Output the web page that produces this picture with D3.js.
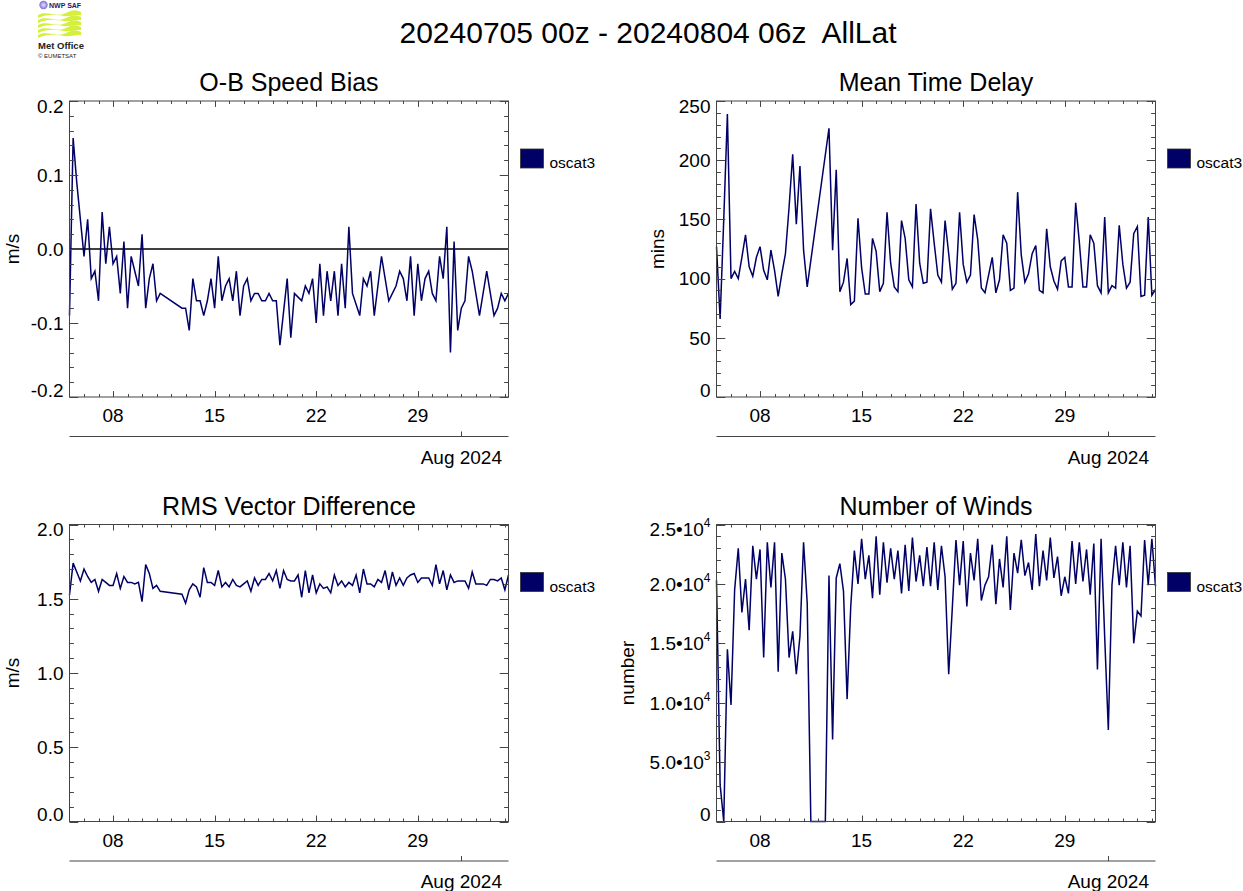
<!DOCTYPE html>
<html><head><meta charset="utf-8">
<script src="https://cdn.jsdelivr.net/npm/d3@7"></script>
<style>
body{margin:0;background:#fff;}
svg{display:block;font-family:"Liberation Sans",Arial,Helvetica,sans-serif;}
</style>
</head><body>
<svg id="chart" width="1243" height="891"></svg>
<script>
// ---------------- DATA ----------------
const mainTitle = "20240705 00z - 20240804 06z  AllLat";
const startTime = "2024-07-05T00:00:00Z";
const endTime = "2024-08-04T06:00:00Z";
const stepHours = 6;
const seriesName = "oscat3";
const majorDays = ["2024-07-08", "2024-07-15", "2024-07-22", "2024-07-29"];
const monthMark = "2024-08-01";
const monthLabel = "Aug 2024";

const speedBias = [-0.09,0.15,0.09,0.04,-0.01,0.04,-0.04,-0.03,-0.07,0.05,
 -0.02,0.03,-0.02,-0.01,-0.06,0.01,-0.08,-0.01,-0.03,-0.05,
 0.02,-0.08,-0.04,-0.02,-0.07,-0.06,null,null,null,null,
 null,-0.08,-0.08,-0.11,-0.04,-0.07,-0.07,-0.09,-0.07,-0.04,
 -0.08,-0.01,-0.07,-0.05,-0.04,-0.07,-0.03,-0.09,-0.05,-0.04,
 -0.07,-0.06,-0.06,-0.07,-0.07,-0.06,-0.07,-0.07,-0.13,-0.085,
 -0.04,-0.12,-0.06,-0.065,-0.07,-0.05,-0.06,-0.04,-0.10,-0.02,
 -0.09,-0.03,-0.07,-0.03,-0.09,-0.02,-0.08,0.03,-0.06,-0.075,
 -0.09,-0.04,-0.05,-0.03,-0.09,-0.05,-0.01,-0.04,-0.07,-0.06,
 -0.05,-0.03,-0.04,-0.07,-0.01,-0.09,-0.02,-0.07,-0.04,-0.03,
 -0.06,-0.07,-0.01,-0.04,0.03,-0.14,0.01,-0.11,-0.08,-0.07,
 -0.01,-0.03,-0.06,-0.09,-0.06,-0.03,-0.06,-0.09,-0.08,-0.06,
 -0.07,-0.06];

const timeDelay = [127,66,150,239,100,106,100,118,137,110,
 102,118,127,107,99,124,107,85,104,121,
 160,205,146,195,124,93,null,null,null,null,
 null,227,124,192,89,97,117,78,81,151,
 109,87,87,134,123,89,96,156,113,93,
 89,149,134,99,93,163,113,96,97,159,
 130,103,97,149,121,91,96,156,112,97,
 103,154,133,92,88,103,118,88,99,137,
 130,90,92,173,120,97,104,121,128,90,
 88,142,110,98,91,115,118,93,93,164,
 131,93,93,137,130,94,88,152,88,94,
 92,145,112,92,97,138,144,85,86,152,
 86,91];

const rmsVecDiff = [1.525,1.74,1.68,1.62,1.70,1.65,1.61,1.63,1.55,1.63,
 1.61,1.59,1.59,1.67,1.57,1.65,1.61,1.61,1.60,1.61,
 1.48,1.73,1.67,1.57,1.59,1.55,null,null,null,null,
 null,1.53,1.47,1.56,1.60,1.58,1.51,1.71,1.61,1.61,
 1.59,1.69,1.58,1.61,1.58,1.63,1.59,1.58,1.60,1.62,
 1.55,1.64,1.59,1.63,1.63,1.67,1.62,1.69,1.57,1.69,
 1.63,1.62,1.62,1.66,1.51,1.69,1.54,1.66,1.54,1.60,
 1.57,1.58,1.54,1.66,1.59,1.62,1.58,1.61,1.59,1.66,
 1.54,1.70,1.60,1.60,1.58,1.63,1.61,1.69,1.56,1.68,
 1.59,1.64,1.59,1.64,1.66,1.67,1.61,1.64,1.64,1.64,
 1.59,1.73,1.60,1.69,1.56,1.66,1.61,1.62,1.62,1.62,
 1.57,1.68,1.60,1.60,1.60,1.59,1.63,1.63,1.62,1.64,
 1.56,1.66];

const numWinds = [20300,3100,0,14500,9800,19500,23000,17600,20400,16100,
 23200,20400,22900,13800,23500,19700,23500,12600,22600,20400,
 13800,16000,12400,15600,23500,18400,0,0,0,0,
 0,20700,6900,20500,21700,19400,10300,18100,22800,20000,
 23800,20400,22400,18800,24000,19100,23500,20100,23000,20400,
 22800,19200,23300,19400,23900,20200,22400,19800,23100,19800,
 23500,19500,23200,20600,12400,18000,23700,19900,23600,18100,
 22600,20300,23800,18600,19900,20600,23300,18300,22100,19700,
 24000,17800,22600,20900,23700,20700,21800,19500,24200,19800,
 22800,20300,23900,20500,22300,19000,20600,19200,23600,20000,
 23500,20200,22900,19100,23400,12800,23800,15500,7700,19900,
 23200,19900,23500,19700,23200,15000,17700,17300,23700,19900,
 23800,19800];

const speedTicks = [-0.2,-0.1,0.0,0.1,0.2];
const speedTickLabels = ["-0.2","-0.1","0.0","0.1","0.2"];
const delayTicks = [0,50,100,150,200,250];
const delayTickLabels = ["0","50","100","150","200","250"];
const rmsTicks = [0.0,0.5,1.0,1.5,2.0];
const rmsTickLabels = ["0.0","0.5","1.0","1.5","2.0"];
const windTicks = [0,5000,10000,15000,20000,25000];
const windTickMant = ["0","5.0","1.0","1.5","2.0","2.5"];
const windTickExp = [null,"3","4","4","4","4"];

// ---------------- LAYOUT ----------------
const svg = d3.select("#chart");
const LINE_COL = "#000066";
const FRAME_COL = "#444";
const t0 = new Date(startTime), t1 = new Date(endTime);
const times = d3.utcHour.every(stepHours).range(t0, new Date(+t1 + 1));

const panels = [
  {title:"O-B Speed Bias", ylab:"m/s", ylabX:12, data:speedBias, dom:[-0.2,0.2], ticks:speedTicks, labels:speedTickLabels, minor:0.02,
   L:69.5, R:508.5, T:101, B:397, zero:true},
  {title:"Mean Time Delay", ylab:"mins", ylabX:657, data:timeDelay, dom:[0,250], ticks:delayTicks, labels:delayTickLabels, minor:10,
   L:716.5, R:1155.5, T:101, B:397},
  {title:"RMS Vector Difference", ylab:"m/s", ylabX:12, data:rmsVecDiff, dom:[0,2], ticks:rmsTicks, labels:rmsTickLabels, minor:0.1,
   L:69.5, R:508.5, T:524.5, B:821.5},
  {title:"Number of Winds", ylab:"number", ylabX:627, data:numWinds, dom:[0,25000], ticks:windTicks, labels:windTickMant, exps:windTickExp, minor:1000,
   L:716.5, R:1155.5, T:524.5, B:821.5}
];

// main title
svg.append("text").attr("x", 648).attr("y", 43).attr("text-anchor","middle")
  .attr("font-size", 30).attr("fill","#000").attr("xml:space","preserve").text(mainTitle);

// logo
(function logo(){
  const g = svg.append("g");
  const grad = svg.append("defs").append("radialGradient").attr("id","sw");
  grad.append("stop").attr("offset","0%").attr("stop-color","#e8e4ff");
  grad.append("stop").attr("offset","100%").attr("stop-color","#7d6fd0");
  g.append("circle").attr("cx",43.5).attr("cy",5).attr("r",4.2).attr("fill","url(#sw)");
  g.append("text").attr("x",49).attr("y",8).attr("font-size",7).attr("font-weight","bold").attr("fill","#20206a").text("NWP SAF");
  const waves = [13,18,23,28,33];
  waves.forEach((y,k)=>{
    g.append("path").attr("d",`M38,${y+2} C48,${y-3} 56,${y+5} 66,${y} S78,${y-2} 81,${y-1} L81,${y+2.2} C76,${y+1} 70,${y+4} 64,${y+3} S48,${y} 38,${y+5} Z`)
      .attr("fill","#d4f03c");
  });
  g.append("text").attr("x",38).attr("y",49).attr("font-size",9.5).attr("font-weight","bold").attr("fill","#222").text("Met Office");
  g.append("text").attr("x",38).attr("y",58).attr("font-size",6).attr("fill","#222").text("© EUMETSAT");
})();

panels.forEach(p => {
  const g = svg.append("g");
  const x = d3.scaleUtc().domain([t0, t1]).range([p.L, p.R]);
  const y = d3.scaleLinear().domain(p.dom).range([p.B, p.T]);
  const W = p.R - p.L, H = p.B - p.T;
  const xMaj = 0.02 * H, xMin = 0.01 * H;
  const yMaj = 0.02 * W, yMin = 0.01 * W;

  // title
  g.append("text").attr("x",(p.L+p.R)/2).attr("y",p.T-10).attr("text-anchor","middle")
    .attr("font-size",25).text(p.title);

  // y label
  g.append("text").attr("transform",`translate(${p.ylabX},${(p.T+p.B)/2}) rotate(-90)`)
    .attr("text-anchor","middle").attr("dy","0.35em").attr("font-size",19).text(p.ylab);

  // zero line
  if (p.zero) {
    g.append("line").attr("x1",p.L).attr("x2",p.R).attr("y1",y(0)).attr("y2",y(0))
      .attr("stroke","#000").attr("stroke-width",1.5);
  }

  // data line
  const pts = times.map((t,i)=>({t, v:p.data[i]})).filter(d => d.v !== null && d.v !== undefined);
  g.append("path").datum(pts)
    .attr("d", d3.line().x(d=>x(d.t)).y(d=>y(d.v)))
    .attr("fill","none").attr("stroke",LINE_COL).attr("stroke-width",1.5).attr("stroke-linejoin","miter");

  // frame
  g.append("rect").attr("x",p.L).attr("y",p.T).attr("width",W).attr("height",H)
    .attr("fill","none").attr("stroke",FRAME_COL).attr("stroke-width",1);

  // x ticks (minor daily, major on label days) top and bottom, inward
  const majors = majorDays.map(s => new Date(s + "T00:00:00Z"));
  const days = d3.utcDay.range(d3.utcDay.offset(t0,1), t1);
  const fmtDay = d3.utcFormat("%d");
  days.forEach(d => {
    const isMaj = majors.some(m => +m === +d);
    const len = isMaj ? xMaj : xMin;
    const xx = Math.round(x(d)) + 0.5;
    g.append("line").attr("x1",xx).attr("x2",xx).attr("y1",p.B).attr("y2",p.B-len).attr("stroke",FRAME_COL);
    g.append("line").attr("x1",xx).attr("x2",xx).attr("y1",p.T).attr("y2",p.T+len).attr("stroke",FRAME_COL);
  });
  majors.forEach(m => {
    g.append("text").attr("x",x(m)).attr("y",p.B+25).attr("text-anchor","middle").attr("font-size",19).text(fmtDay(m));
  });

  // second axis
  const ax2 = p.B + 39.5;
  g.append("line").attr("x1",p.L).attr("x2",p.R).attr("y1",ax2).attr("y2",ax2).attr("stroke",FRAME_COL);
  const mm = new Date(monthMark + "T00:00:00Z");
  const mx = Math.round(x(mm)) + 0.5;
  g.append("line").attr("x1",mx).attr("x2",mx).attr("y1",ax2).attr("y2",ax2-5).attr("stroke",FRAME_COL);
  g.append("text").attr("x",x(mm)).attr("y",ax2+27).attr("text-anchor","middle").attr("font-size",19).text(monthLabel);

  // y ticks, inward both sides
  const minorVals = d3.range(Math.round((p.dom[1]-p.dom[0])/p.minor)+1).map(k => p.dom[0] + k*p.minor);
  minorVals.forEach(v => {
    const isMaj = p.ticks.some(t => Math.abs(t - v) < p.minor*1e-3);
    const len = isMaj ? yMaj : yMin;
    const yy = Math.round(y(v)) + 0.5;
    g.append("line").attr("x1",p.L).attr("x2",p.L+len).attr("y1",yy).attr("y2",yy).attr("stroke",FRAME_COL);
    g.append("line").attr("x1",p.R).attr("x2",p.R-len).attr("y1",yy).attr("y2",yy).attr("stroke",FRAME_COL);
  });
  p.ticks.forEach((t,k) => {
    let cy = y(t);
    cy = Math.max(p.T + 5, Math.min(p.B - 7, cy));
    const txt = g.append("text").attr("x",p.L-6).attr("y",cy).attr("dy","0.36em")
      .attr("text-anchor","end").attr("font-size",19);
    if (p.exps && p.exps[k]) {
      txt.append("tspan").text(p.labels[k] + "•10");
      txt.append("tspan").attr("font-size",12).attr("dy","-0.75em").text(p.exps[k]);
    } else {
      txt.text(p.labels[k]);
    }
  });

  // legend
  const lx = p.R + 12, ly = p.T + 48;
  g.append("rect").attr("x",lx).attr("y",ly).attr("width",23).attr("height",19)
    .attr("fill",LINE_COL).attr("stroke","#333").attr("stroke-width",0.8);
  g.append("text").attr("x",lx+29).attr("y",ly+19).attr("font-size",15.5).text(seriesName);
});
</script>
</body></html>
